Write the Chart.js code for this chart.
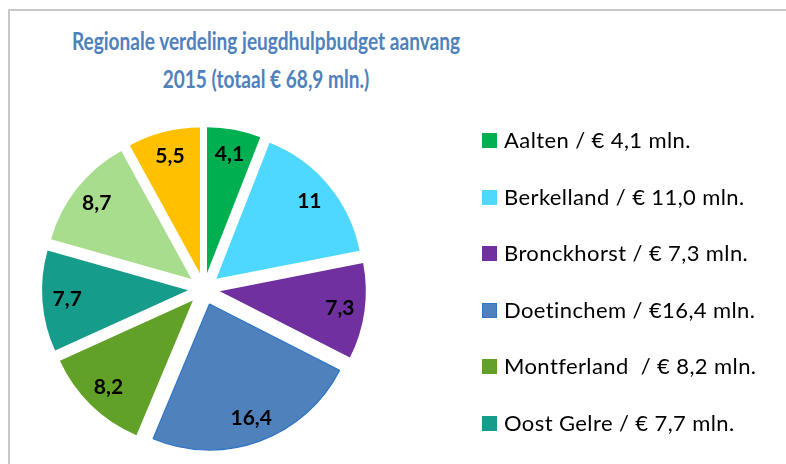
<!DOCTYPE html>
<html>
<head>
<meta charset="utf-8">
<script src="https://cdn.jsdelivr.net/npm/chart.js@4"></script>
<style>
    html, body { margin: 0; padding: 0; background: #fff; }
    body { width: 786px; height: 464px; overflow: hidden; position: relative; font-family: Lato, "Open Sans", sans-serif; }
    .frame { position: absolute; left: 8px; top: 9px; width: 800px; height: 480px; border: 2px solid #c8c8c8; box-sizing: border-box; }
    .title { position: absolute; left: 0; top: 22px; width: 532px; text-align: center; color: #4f81bd; font-weight: bold; font-size: 24px; line-height: 38px; transform: scaleX(0.795); transform-origin: 266px 0; }
    #chartBox { position: absolute; left: 0; top: 0; width: 786px; height: 464px; }
    .legend { position: absolute; left: 482px; top: 0; }
    .legend-item { position: absolute; left: 0; white-space: pre; font-size: 22px; letter-spacing: 0.4px; color: #000; }
    .legend-item .box { position: absolute; left: 0; top: 0; width: 15px; height: 15px; box-sizing: border-box; }
    .legend-item span { position: absolute; left: 22px; top: -8px; line-height: 30px; }
</style>
</head>
<body>
<div class="frame"></div>
<div class="title">Regionale verdeling jeugdhulpbudget aanvang<br>2015 (totaal € 68,9 mln.)</div>
<div id="chartBox"><canvas id="budgetPie"></canvas></div>
<div class="legend" id="legend"></div>

<script>
    // gemeenten en budget in miljoenen euro
    const gemeenten = ['Aalten', 'Berkelland', 'Bronckhorst', 'Doetinchem', 'Montferland', 'Oost Gelre', 'Oude IJsselstreek', 'Winterswijk'];
    const budget = [4.1, 11, 7.3, 16.4, 8.2, 7.7, 8.7, 5.5];
    const legendaTekst = [
        'Aalten / € 4,1 mln.',
        'Berkelland / € 11,0 mln.',
        'Bronckhorst / € 7,3 mln.',
        'Doetinchem / €16,4 mln.',
        'Montferland  / € 8,2 mln.',
        'Oost Gelre / € 7,7 mln.',
        'Oude IJsselstreek / € 8,7 mln.',
        'Winterswijk / € 5,5 mln.'
    ];
    const kleuren = ['#00b050', '#4fd8ff', '#7030a0', '#4f81bd', '#61a127', '#169c8b', '#a9dd8e', '#ffc000'];
    const randKleuren = ['#00b050', '#4fd8ff', '#7030a0', '#2e75c6', '#61a127', '#169c8b', '#a9dd8e', '#ffc000'];
    const randDikte = [0, 0, 0, 1.2, 0, 0, 0, 0];

    const EXPLODE = 16;      // afstand van elk segment tot het midden
    const LABEL_POS = 0.83;  // labels op deel van de straal

    // segmenten zelf tekenen zodat ieder stuk even ver naar buiten schuift
    const explodePlugin = {
        id: 'explodePlugin',
        beforeDatasetsDraw(chart) {
            const ctx = chart.ctx;
            chart.getDatasetMeta(0).data.forEach(arc => {
                const mid = (arc.startAngle + arc.endAngle) / 2;
                ctx.save();
                ctx.translate(Math.cos(mid) * EXPLODE, Math.sin(mid) * EXPLODE);
                arc.draw(ctx);
                ctx.restore();
            });
            return false;
        },
        afterDraw(chart) {
            const ctx = chart.ctx;
            const data = chart.data.datasets[0].data;
            ctx.save();
            ctx.font = 'bold 21px Lato, sans-serif';
            ctx.fillStyle = '#000';
            ctx.textAlign = 'center';
            ctx.textBaseline = 'middle';
            chart.getDatasetMeta(0).data.forEach((arc, i) => {
                const mid = (arc.startAngle + arc.endAngle) / 2;
                const r = EXPLODE + arc.outerRadius * LABEL_POS;
                const txt = String(data[i]).replace('.', ',');
                ctx.fillText(txt, arc.x + Math.cos(mid) * r, arc.y + Math.sin(mid) * r);
            });
            ctx.restore();
        }
    };

    const ctx = document.getElementById('budgetPie').getContext('2d');
    new Chart(ctx, {
        type: 'pie',
        data: {
            labels: gemeenten,
            datasets: [{
                data: budget,
                backgroundColor: kleuren,
                borderColor: randKleuren,
                borderWidth: randDikte
            }]
        },
        options: {
            responsive: true,
            maintainAspectRatio: false,
            animation: false,
            radius: 146,
            layout: { padding: { left: 0, right: 378, top: 130, bottom: 16 } },
            plugins: {
                legend: { display: false },
                tooltip: { enabled: false }
            }
        },
        plugins: [explodePlugin]
    });

    // legenda naast de taart
    const legend = document.getElementById('legend');
    legendaTekst.forEach((t, i) => {
        const item = document.createElement('div');
        item.className = 'legend-item';
        item.style.top = (133 + i * 56.5) + 'px';
        const box = document.createElement('div');
        box.className = 'box';
        box.style.background = kleuren[i];
        if (randDikte[i] > 0) box.style.border = '1px solid ' + randKleuren[i];
        const span = document.createElement('span');
        span.textContent = t;
        item.appendChild(box);
        item.appendChild(span);
        legend.appendChild(item);
    });
</script>
</body>
</html>
